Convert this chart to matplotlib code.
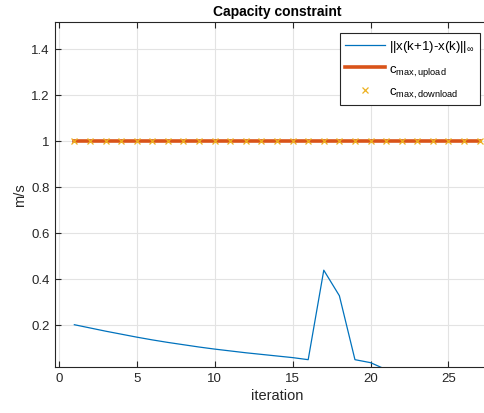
import numpy as np
import matplotlib.pyplot as plt

plt.rcParams['font.family'] = ['Liberation Sans', 'DejaVu Sans']
plt.rcParams['mathtext.fontset'] = 'custom'
plt.rcParams['mathtext.rm'] = 'Liberation Sans'
plt.rcParams['mathtext.it'] = 'Liberation Sans'

# step size per iteration
iterations = np.arange(1, 28)
step_norm = [0.200, 0.186, 0.172, 0.159, 0.146, 0.134, 0.123, 0.113, 0.103,
             0.094, 0.086, 0.078, 0.071, 0.064, 0.057, 0.048, 0.437, 0.326,
             0.048, 0.035, 0.005, 0.0, 0.0, 0.0, 0.0, 0.0, 0.0]
c_upload = [1.0] * 27
c_download = [1.0] * 27

txt = '#262626'
fig = plt.figure(figsize=(4.85, 4.14), dpi=100)
ax = fig.add_axes([0.1128, 0.1118, 0.918, 0.8327])

ax.plot(iterations, step_norm, color='#0072BD', lw=0.9,
        label=r'||x(k+1)-x(k)||$_{\infty}$')
ax.plot(iterations, c_upload, color='#D95319', lw=2.6,
        label=r'c$_{\mathrm{max,upload}}$')
ax.plot(iterations, c_download, ls='none', marker='x', ms=5, mew=0.9,
        color='#EDB120', label=r'c$_{\mathrm{max,download}}$')

ax.set_xlim(-0.26, 28.3)
ax.set_ylim(0.0174, 1.516)
ax.set_xticks([0, 5, 10, 15, 20, 25])
ax.set_yticks([0.2, 0.4, 0.6, 0.8, 1.0, 1.2, 1.4])
ax.set_yticklabels(['0.2', '0.4', '0.6', '0.8', '1', '1.2', '1.4'])
ax.grid(True, color='#e3e3e3', lw=0.8)
ax.set_axisbelow(True)
ax.tick_params(direction='in', length=4, width=0.8, colors=txt,
               labelsize=9.5, top=True, right=True)
for s in ax.spines.values():
    s.set_color(txt)
    s.set_linewidth(0.8)

ax.set_title('Capacity constraint', fontsize=10, fontweight='bold',
             color='black', pad=5)
ax.set_xlabel('iteration', fontsize=10.5, color=txt, labelpad=3)
ax.set_ylabel('m/s', fontsize=10.5, color=txt, labelpad=3)

leg = ax.legend(loc='upper right', bbox_to_anchor=(480 / 485, 1 - 34 / 414),
                bbox_transform=fig.transFigure, fontsize=9.5, frameon=True,
                fancybox=False, edgecolor=txt, framealpha=1,
                handlelength=3.0, borderaxespad=0, borderpad=0.4,
                labelspacing=0.6, handletextpad=0.3)
leg.get_frame().set_linewidth(0.8)

fig.savefig('out.png', dpi=100)
